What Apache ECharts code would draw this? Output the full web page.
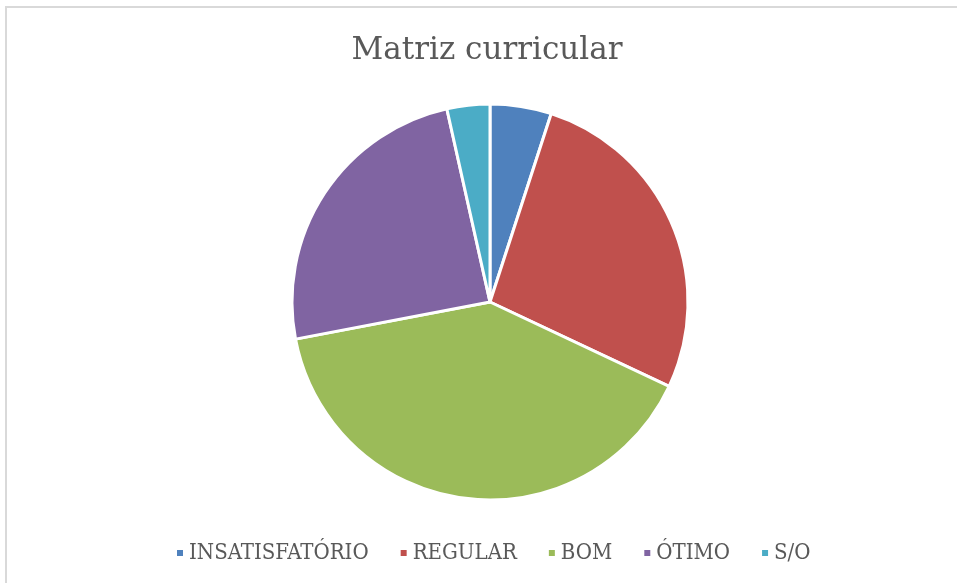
<!DOCTYPE html>
<html>
<head>
    <meta charset="utf-8">
    <title>Matriz curricular</title>
    <script src="https://cdn.jsdelivr.net/npm/echarts@6/dist/echarts.min.js"></script>
    <style>
        html, body { margin: 0; padding: 0; background: #fff; }
    </style>
</head>
<body>
    <div id="main" style="width: 957px;height:583px;"></div>
    <script type="text/javascript">
// dados
var categorias = ['INSATISFATÓRIO', 'REGULAR', 'BOM', 'ÓTIMO', 'S/O'];
var valores = [5, 27, 40, 24.5, 3.5];
var cores = ['#4F81BD', '#C0504D', '#9BBB59', '#8064A2', '#4BACC6'];

var myChart = echarts.init(document.getElementById('main'));

var dados = categorias.map(function(nome, i) {
    return { name: nome, value: valores[i] };
});

var option = {
    backgroundColor: '#ffffff',
    animation: false,
    color: cores,
    graphic: [{
        type: 'rect',
        shape: { x: 6, y: 7, width: 1000, height: 1000 },
        style: { fill: 'none', stroke: '#d9d9d9', lineWidth: 2 },
        silent: true
    }],
    title: {
        text: 'Matriz curricular',
        left: 482,
        textAlign: 'center',
        top: 30,
        textStyle: {
            color: '#595959',
            fontFamily: 'DejaVu Serif',
            fontSize: 31,
            fontWeight: 'normal'
        }
    },
    legend: {
        data: categorias,
        left: 170,
        top: 537,
        icon: 'rect',
        itemWidth: 8,
        itemHeight: 8,
        itemGap: 30,
        selectedMode: false,
        textStyle: {
            color: '#595959',
            fontFamily: "'DejaVu Serif Condensed', 'DejaVu Serif'",
            fontSize: 22
        }
    },
    series: [{
        name: 'Matriz curricular',
        type: 'pie',
        center: [490, 302],
        radius: [0, 198],
        startAngle: 90,
        clockwise: true,
        label: { show: false },
        labelLine: { show: false },
        emphasis: { disabled: true },
        itemStyle: {
            borderColor: '#ffffff',
            borderWidth: 3
        },
        data: dados
    }]
};
myChart.setOption(option);
    </script>
</body>
</html>
